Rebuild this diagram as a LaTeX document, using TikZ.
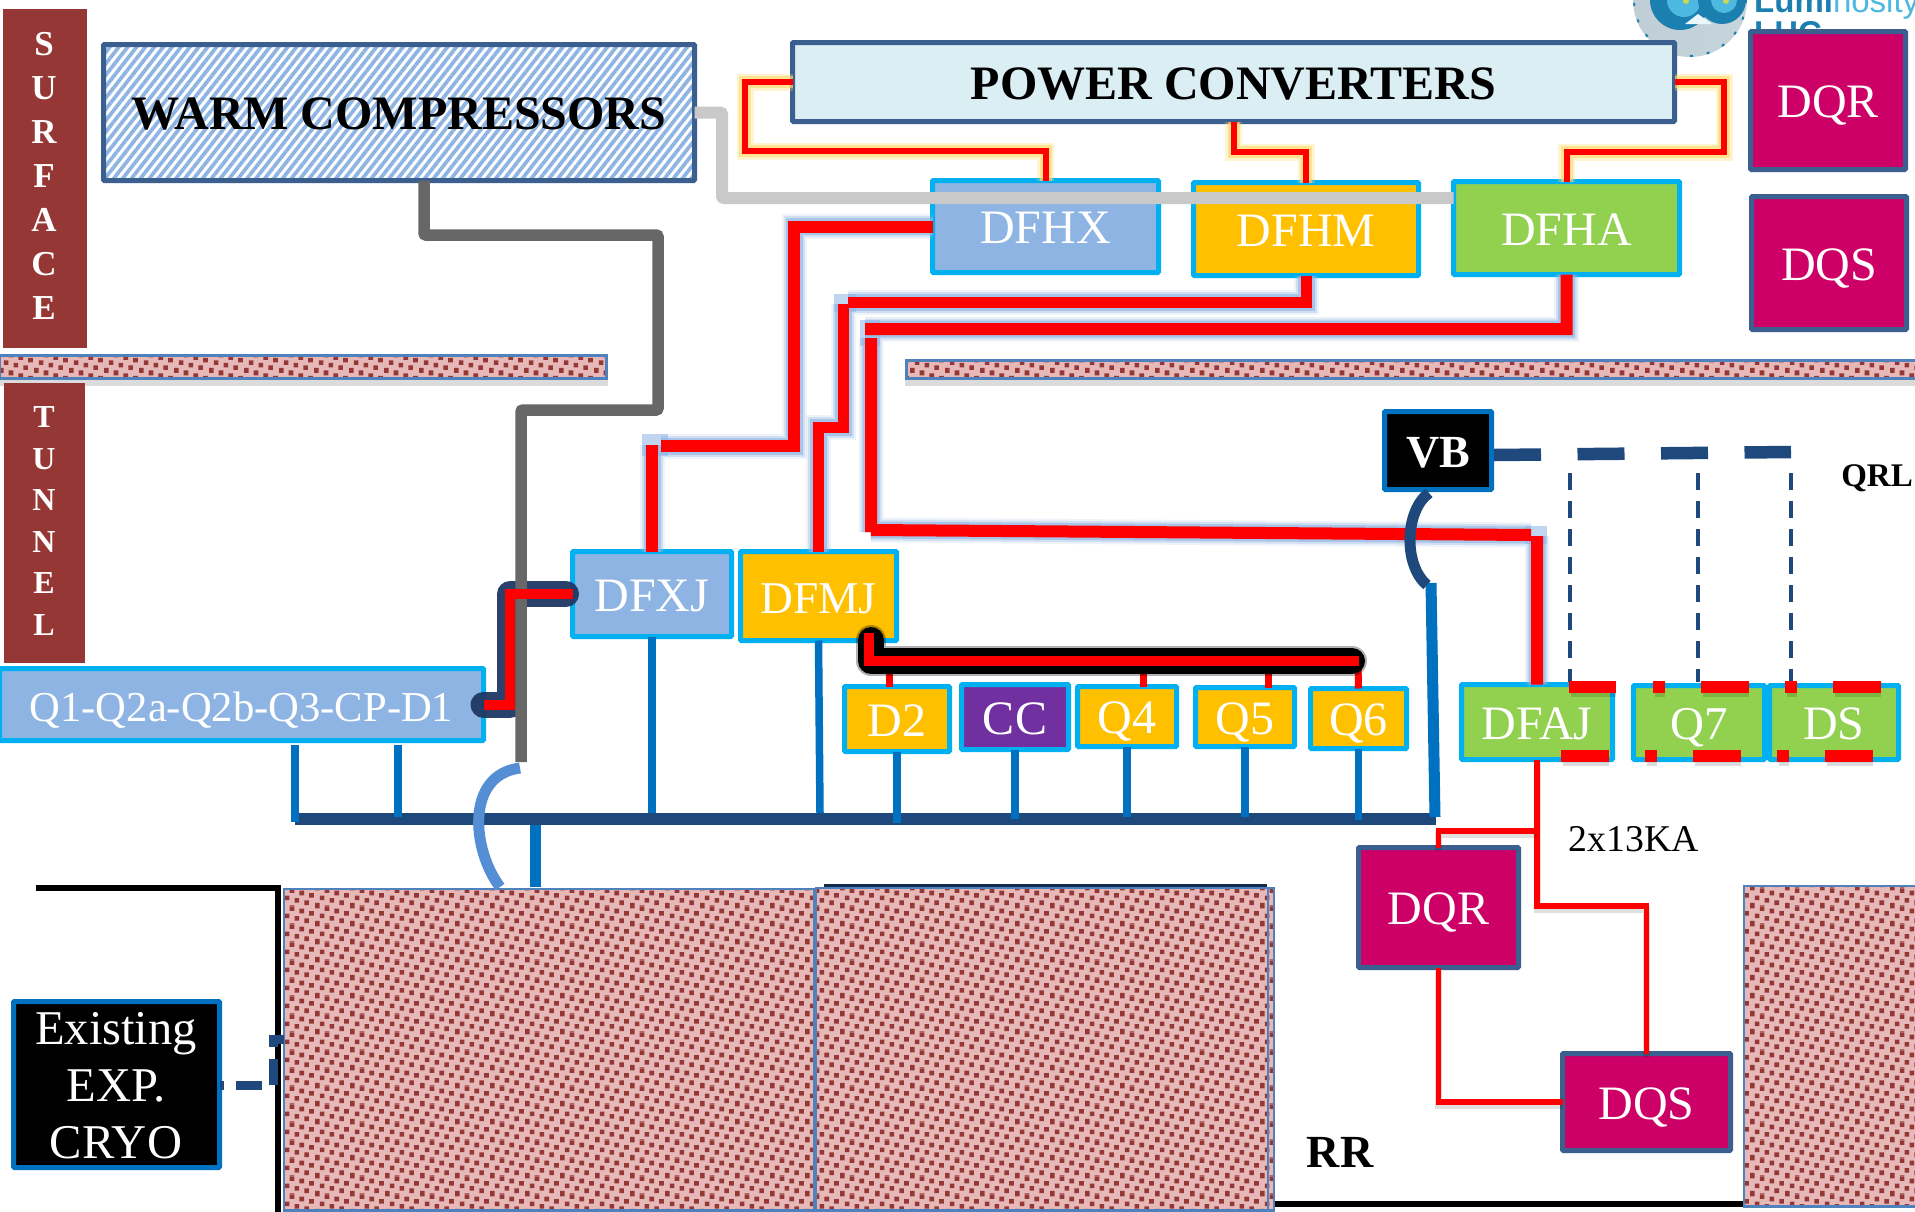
\documentclass[tikz,border=0pt]{standalone}
\usepackage{fontspec}
\setmainfont{Liberation Serif}
\newfontfamily\logofont{Liberation Sans}
\usetikzlibrary{patterns,patterns.meta,calc}
\definecolor{cyanln}{HTML}{00B0F0}
\definecolor{slateln}{HTML}{3B5F8F}
\definecolor{navyln}{HTML}{1F497D}
\definecolor{midblue}{HTML}{0070C0}
\definecolor{softblue}{HTML}{558ED5}
\definecolor{paleblue}{HTML}{8EB4E3}
\definecolor{icefill}{HTML}{DAEEF3}
\definecolor{amber}{HTML}{FFC000}
\definecolor{leaf}{HTML}{92D050}
\definecolor{plum}{HTML}{7030A0}
\definecolor{magen}{HTML}{CC0066}
\definecolor{brick}{HTML}{953735}
\definecolor{rosebg}{HTML}{E6B8B7}
\definecolor{edgeblue}{HTML}{4F81BD}
\definecolor{lightgr}{HTML}{C9C9C9}
\definecolor{darkgr}{HTML}{676767}
\definecolor{glowy}{HTML}{FFD966}
\definecolor{glowd}{HTML}{1F3864}
\definecolor{logoa}{HTML}{1B7FB0}
\definecolor{logob}{HTML}{4DB8E0}
\pgfdeclarepatternformonly{speck}{\pgfqpoint{0pt}{0pt}}{\pgfqpoint{35pt}{17.5pt}}{\pgfqpoint{35pt}{17.5pt}}{%
  \foreach \sx/\sy in {0/16,10/13.5,20/11,30/8.5,5/6,15/3.5,25/1,0/-1.5,10/-4}{%
    \pgfpathrectangle{\pgfqpoint{\sx pt}{\sy pt}}{\pgfqpoint{4.7pt}{4.7pt}}}%
  \pgfusepath{fill}}
\tikzset{
  tb/.style={draw,line width=5pt,inner sep=0pt,outer sep=0pt,text=white,
    font=\fontsize{48}{50}\selectfont,text height=34pt,text depth=0pt,rounded corners=1pt},
  cyanbox/.style={tb,draw=cyanln},
  slatebox/.style={tb,draw=slateln},
  bluebox/.style={cyanbox,fill=paleblue},
  amberbox/.style={cyanbox,fill=amber},
  leafbox/.style={cyanbox,fill=leaf},
  ccbox/.style={cyanbox,fill=plum},
  dqbox/.style={slatebox,fill=magen},
  blackbox/.style={tb,draw=midblue,fill=black},
  bigtxt/.style={text=black,font=\fontsize{48}{50}\bfseries\selectfont},
  sidebar/.style={fill=brick,draw=none,inner sep=0pt,outer sep=0pt},
  sidetxt/.style={text=white,align=center,inner sep=0pt},
  earth/.style={draw=edgeblue,line width=2.5pt,inner sep=0pt,outer sep=0pt,
    preaction={fill=rosebg},pattern=speck,pattern color=brick},
  shade/.style={fill=black,fill opacity=.14},
  pipethin/.style={draw=red,line width=6pt,
    preaction={draw=glowy,line width=17pt,draw opacity=.3},
    preaction={draw=glowy,line width=12pt,draw opacity=.6}},
  pipethick/.style={draw=red,line width=12pt,
    preaction={draw=paleblue,line width=25pt,draw opacity=.15},
    preaction={draw=paleblue,line width=21pt,draw opacity=.3},
    preaction={draw=paleblue,line width=17pt,draw opacity=.6}},
  glowpatch/.style={fill=paleblue,fill opacity=.55},
  feed/.style={draw=red,line width=5.5pt,
    preaction={draw=black,line width=7pt,draw opacity=.12,transform canvas={yshift=-3pt}}},
  drop/.style={draw=red,line width=7pt},
  stub/.style={draw=midblue,line width=7.5pt},
  busline/.style={draw=navyln,line width=12pt},
  qrlthin/.style={draw=navyln,line width=4pt,dash pattern=on 16.5pt off 11.5pt},
  redbit/.style={fill=red},
  plain/.style={text=black,inner sep=0pt}
}
\newcommand{\bx}[7]{%
  \pgfmathsetmacro\bxcx{(#2+#4)/2}\pgfmathsetmacro\bxcy{(#3+#5)/2}%
  \pgfmathsetmacro\bxw{#4-#2-5}\pgfmathsetmacro\bxh{#5-#3-5}%
  \node[#6,minimum width=\bxw pt,minimum height=\bxh pt] (#1) at (\bxcx,\bxcy) {#7};}
\begin{document}
\begin{tikzpicture}[x=1pt,y=-1pt]
\useasboundingbox (0,0) rectangle (1915,1211);
\fill[white] (0,0) rectangle (1915,1211);

% logo, cut by the page
\shade[left color=logoa,right color=logob] (1690,0) circle (57);
\draw[logoa,line width=2pt,dash pattern=on 3pt off 14pt] (1690,0) circle (56);
\fill[logoa] (1680,0) circle (30);
\fill[logob] (1684,0) circle (17);
\fill[logoa] (1722,0) circle (24);
\fill[logob] (1724,0) circle (13);
\fill[yellow!70!logob] (1686,1) circle (3);
\fill[yellow!70!logob] (1726,1) circle (3);
\fill[white!88!logob] (1685,24) -- (1698,14) -- (1712,24) -- cycle;
\node[anchor=base west,inner sep=0pt,text=logoa,font=\logofont\fontsize{33}{36}\selectfont] (lumi) at (1754,12)
  {\textbf{Lumi}\textcolor{logob}{nosity}};
\node[anchor=base west,inner sep=0pt,text=logoa,font=\logofont\fontsize{33}{36}\bfseries\selectfont] (lhc) at (1754,44) {LHC};

% ground blocks
\fill[shade] (0,380) rectangle (608,386);
\fill[shade] (905,380) rectangle (1915,386);
\bx{bandl}{-3}{353}{609}{381}{earth}{}
\bx{bandr}{904}{358}{1930}{381}{earth}{}
\draw[navyln!60!black,line width=3pt] (824,885) -- (1267,885);
\bx{rockl}{281.5}{886.5}{816.5}{1213}{earth}{}
\bx{rockm}{813.5}{885.5}{1276.5}{1213}{earth}{}
\draw[edgeblue,line width=2.5pt] (1268,887) -- (1268,1209);
\bx{rockr}{1741.5}{883.5}{1935}{1209}{earth}{}

% walls
\coordinate (wallt) at (36,888);
\coordinate (wallc) at (278,888);
\coordinate (wallb) at (278,1212);
\draw[black,line width=6pt] (wallt) -- (wallc) -- (wallb);
\coordinate (floorb) at (1743,1204);
\draw[black,line width=5.5pt] (1275,1204) -- (floorb);

% side bars
\bx{surf}{0.5}{6.5}{89.5}{350.5}{sidebar}{}
\bx{tunn}{1.5}{380.5}{87.5}{665.5}{sidebar}{}
\node[sidetxt,font=\fontsize{35}{44}\bfseries\selectfont] (surft) at (44,176) {S\\U\\R\\F\\A\\C\\E};
\node[sidetxt,font=\fontsize{32}{41.5}\bfseries\selectfont] (tunnt) at (44,521) {T\\U\\N\\N\\E\\L};

% upper boxes
\bx{warm}{101}{42}{697}{183}{tb,draw=slateln,pattern={Lines[angle=52,distance=7pt,line width=3.7pt]},pattern color=paleblue,bigtxt}{WARM COMPRESSORS}
\bx{power}{790}{40}{1677}{124}{tb,draw=slateln,fill=icefill,bigtxt}{POWER CONVERTERS}
\bx{dfhx}{930}{178}{1161}{275}{bluebox}{DFHX}
\bx{dfhm}{1191}{180}{1421}{278}{amberbox}{DFHM}
\bx{dfha}{1451}{179}{1682}{277}{leafbox}{DFHA}
\bx{dqrt}{1748}{29}{1908}{172}{dqbox}{DQR}
\bx{dqst}{1749}{194}{1909}{332}{dqbox}{DQS}

% tunnel boxes
\bx{qone}{-3}{666}{486}{743}{bluebox,font=\fontsize{42.6}{46}\selectfont}{Q1-Q2a-Q2b-Q3-CP-D1}
\bx{dfxj}{570}{549}{734}{639}{bluebox}{DFXJ}
\bx{dfmj}{738}{549}{899}{643}{amberbox,font=\fontsize{45.5}{48}\selectfont}{DFMJ}
\bx{dtwo}{842}{684}{952}{754}{amberbox}{D2}
\bx{cc}{959}{682}{1071}{752}{ccbox}{CC}
\bx{qfour}{1075}{684}{1179}{749}{amberbox}{Q4}
\bx{qfive}{1193}{685}{1297}{749}{amberbox}{Q5}
\bx{qsix}{1308}{686}{1409}{751}{amberbox}{Q6}
\bx{dfaj}{1459}{682}{1615}{762}{leafbox}{DFAJ}
\bx{qseven}{1631}{683}{1767}{762}{leafbox,font=\fontsize{47}{48}\selectfont}{Q7}
\bx{ds}{1767}{683}{1901}{762}{leafbox}{DS}
\bx{vb}{1382}{409}{1494}{492}{blackbox,font=\fontsize{46}{50}\bfseries\selectfont}{VB}
\bx{dqrl}{1356}{845}{1521}{970}{dqbox}{DQR}
\bx{dqsl}{1560}{1051}{1733}{1153}{dqbox}{DQS}
\bx{expb}{11}{999}{222}{1170}{blackbox}{}
\node[sidetxt,font=\fontsize{48.5}{57}\selectfont] (expt) at (116,1086) {Existing\\EXP.\\CRYO};

% labels
\node[plain,font=\fontsize{33}{36}\bfseries\selectfont] (qrl) at (1877,478) {QRL};
\node[plain,font=\fontsize{37.8}{40}\selectfont] (kalbl) at (1634,839) {2x13KA};
\node[plain,font=\fontsize{46}{50}\bfseries\selectfont] (rr) at (1340,1152) {RR};

% cooling bus
\coordinate (busl) at (295,818.5);
\coordinate (busr) at (1436,818.5);
\draw[draw=midblue,line width=11pt] (535,820) -- (535,887);
\draw[busline] (busl) -- (busr);
\draw[stub] (295,745) -- (295,822);
\draw[stub] (398,745) -- (398,817);
\draw[stub] (dfxj.south) -- (dfxj.south |- 0,813);
\draw[stub] (dfmj.south) -- (820,813);
\draw[stub] (dtwo.south) -- (dtwo.south |- 0,823);
\draw[stub] (cc.south) -- (cc.south |- 0,819);
\draw[stub] (qfour.south) -- (qfour.south |- 0,817);
\draw[stub] (qfive.south) -- (qfive.south |- 0,817);
\draw[stub] (qsix.south) -- (qsix.south |- 0,820);
\draw[draw=midblue,line width=11pt] (1431,583) -- (1435,817);

% QRL lines
\draw[draw=navyln,line width=12.5pt,dash pattern=on 47pt off 36.5pt] ($(vb.east |- 0,455)+(2.5,0)$) -- (1791,452);
\draw[qrlthin] (1570,473) -- (1570,682);
\draw[qrlthin] (1698,473) -- (1698,682);
\draw[qrlthin] (1791,473) -- (1791,682);
\foreach \ax/\ay/\bx/\by in {1569/681/1616/693,1561/750/1609/762,1653/681/1665/693,1701/681/1749/693,1645/750/1657/762,1693/750/1741/762,1785/681/1797/693,1833/681/1881/693,1777/750/1789/762,1825/750/1873/762}
  {\fill[shade] (\ax+2,\by) rectangle (\bx,\by+4);
   \fill[redbit] (\ax,\ay) rectangle (\bx,\by);}

% existing cryo link
\draw[draw=navyln,line width=9pt,dash pattern=on 26pt off 12pt,dash phase=22pt] (expb.east |- 0,1085) -- (273,1085) -- (273,1039) -- (rockl.west |- 0,1039);

% thick power lines, with the glow closing their corner gaps
\fill[glowpatch] (642,434) rectangle (668,456);
\fill[glowpatch] (834,294) rectangle (856,312);
\fill[glowpatch] (860,320) rectangle (880,346);
\fill[glowpatch] (1525,526) rectangle (1547,544);
\draw[pipethick] (dfhx.west) -| (794,446) -- (661,446) (652,445) -- (dfxj.north);
\draw[pipethick,line width=11pt] (dfhm.south) |- (848,302) (843,304) -- (843,427) -| (dfmj.north);
\draw[pipethick] (dfha.south) |- (865,329) (871,338) -- (871,532) (871,530) -- (1531,535) (1537,536) -- (dfaj.north);

% thin power lines
\draw[pipethin] (power.west) -| (745,151) -| (dfhx.north);
\draw[pipethin] (power.south) |- (dfhm.north |- 0,152) -- (dfhm.north);
\draw[pipethin] (power.east) -| (1724,152) -| (dfha.north);

% helium lines
\draw[draw=lightgr,line width=12pt,rounded corners=2pt] (warm.east) -| (722,198) -- (dfha.west |- 0,198);

% Q1 to DFXJ
\path[draw=glowd,line width=26pt,line cap=round,line join=round,draw opacity=.95] (qone.east) -| (510,594) -- (566,594);
\draw[draw=darkgr,line width=11.5pt,rounded corners=2pt] (warm.south -| 424,0) |- (658,235) -- (658,410) -- (521,410) -- (521,762);
\draw[draw=red,line width=10pt] (qone.east) -| (510,594) -- (dfxj.west);

% arcs over the tunnel lines
\draw[draw=navyln,line width=11pt] (1429,493) .. controls (1405,510) and (1403,565) .. (1427,585);
\draw[draw=softblue,line width=11pt] (520,768) .. controls (465,775) and (472,850) .. (500,887);

% DFMJ feed
\draw[drop] (889,661) -- (dtwo.north -| 889,0);
\draw[drop] (1143,661) -- (qfour.north -| 1143,0);
\draw[drop] (1268,661) -- (qfive.north -| 1268,0);
\draw[drop] (1358,661) -- (qsix.north);
\path[draw=black,line width=30pt,line cap=round,line join=round,draw opacity=.3] (871,640) |- (1352,661);
\path[draw=black,line width=26pt,line cap=round,line join=round] (871,640) |- (1352,661);
\draw[draw=red,line width=10.5pt] (869,633) |- (1359,661);

% dump lines
\draw[feed] (dfaj.south) |- (dqsl.north |- 0,906) -- (dqsl.north);
\draw[feed] (1537,831) -| (dqrl.north);
\draw[feed] (dqrl.south) |- (dqsl.west);
\end{tikzpicture}
\end{document}
